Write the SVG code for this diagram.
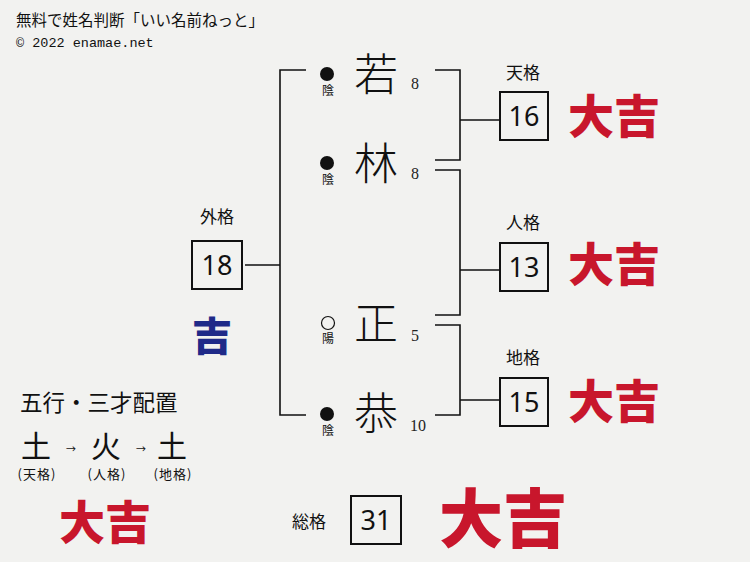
<svg xmlns="http://www.w3.org/2000/svg" width="750" height="562" viewBox="0 0 750 562">
<style>
.ln{stroke:#111;stroke-width:1.6;fill:none}
.box{fill:none;stroke:#111;stroke-width:2}
.num{font-family:"Noto Sans","Liberation Sans",sans-serif;font-size:27px;text-anchor:middle;fill:#111}
.lab{font-family:"Noto Sans CJK JP",sans-serif;font-size:17px;text-anchor:middle;fill:#111}
.name{font-family:"Noto Sans CJK JP",sans-serif;font-weight:300;font-size:44px;text-anchor:middle;fill:#111}
.stk{font-family:"Liberation Serif",serif;font-size:16px;fill:#222}
.yin{font-family:"Noto Sans CJK JP",sans-serif;font-size:12px;text-anchor:middle;fill:#111}
.kichi{font-family:"Noto Sans CJK JP",sans-serif;font-weight:900;fill:#c8162c}
.g5{font-family:"Noto Sans CJK JP",sans-serif;fill:#111}
.par{font-family:"Noto Sans CJK JP",sans-serif;font-size:13px;text-anchor:middle;fill:#111;letter-spacing:1px}
</style>
<rect width="750" height="562" fill="#f2f2f0"/>
<g id="header">
<text x="16" y="26" class="g5" font-size="15.5">無料で姓名判断「いい名前ねっと」</text>
<text x="16" y="47" font-family="Liberation Mono,monospace" font-size="13.5" fill="#111">© 2022 enamae.net</text>
</g>
<g id="connectors">
<path class="ln" d="M306,70 H280 V415 H306 M245,265 H280"/>
<path class="ln" d="M435,70 H460 V160 H435 M460,120 H499"/>
<path class="ln" d="M435,170 H460 V315 H435 M460,270 H499"/>
<path class="ln" d="M435,325 H460 V415 H435 M460,400 H499"/>
</g>
<g id="name1">
<circle cx="327" cy="74" r="7" fill="#111"/>
<text x="328" y="95" class="yin">陰</text>
<text x="376" y="91" class="name">若</text>
<text x="411" y="89" class="stk">8</text>
</g>
<g id="name2">
<circle cx="327" cy="163" r="7" fill="#111"/>
<text x="328" y="184" class="yin">陰</text>
<text x="376" y="180" class="name">林</text>
<text x="411" y="179" class="stk">8</text>
</g>
<g id="name3">
<circle cx="328" cy="323" r="6.5" fill="none" stroke="#111" stroke-width="1.2"/>
<text x="328" y="343" class="yin">陽</text>
<text x="376" y="340" class="name">正</text>
<text x="411" y="341" class="stk">5</text>
</g>
<g id="name4">
<circle cx="327" cy="414" r="7" fill="#111"/>
<text x="328" y="435" class="yin">陰</text>
<text x="376" y="430" class="name">恭</text>
<text x="410" y="431" class="stk">10</text>
</g>
<g id="gaikaku">
<text x="217" y="223" class="lab">外格</text>
<rect x="192" y="241" width="50" height="48" class="box"/>
<text x="217" y="275" class="num">18</text>
<text x="212" y="351" font-family="Noto Sans CJK JP,sans-serif" font-weight="900" font-size="40" text-anchor="middle" fill="#1f2a88">吉</text>
</g>
<g id="tenkaku">
<text x="523" y="79" class="lab">天格</text>
<rect x="500" y="92" width="48" height="48" class="box"/>
<text x="524" y="126" class="num">16</text>
<text x="614" y="133" class="kichi" font-size="46" text-anchor="middle">大吉</text>
</g>
<g id="jinkaku">
<text x="523" y="229" class="lab">人格</text>
<rect x="500" y="243" width="48" height="48" class="box"/>
<text x="524" y="277" class="num">13</text>
<text x="614" y="281" class="kichi" font-size="46" text-anchor="middle">大吉</text>
</g>
<g id="chikaku">
<text x="523" y="364" class="lab">地格</text>
<rect x="500" y="378" width="48" height="48" class="box"/>
<text x="524" y="412" class="num">15</text>
<text x="614" y="418" class="kichi" font-size="46" text-anchor="middle">大吉</text>
</g>
<g id="soukaku">
<text x="309" y="528" class="lab">総格</text>
<rect x="351" y="496" width="50" height="48" class="box"/>
<text x="376" y="530" class="num">31</text>
<text x="503" y="542" class="kichi" font-size="64" text-anchor="middle">大吉</text>
</g>
<g id="gogyou">
<text x="20" y="411" class="g5" font-size="22.5">五行・三才配置</text>
<text x="36" y="457" class="g5" font-size="30" text-anchor="middle">土</text>
<text x="71" y="453" class="g5" font-size="10" text-anchor="middle">→</text>
<text x="106" y="457" class="g5" font-size="30" text-anchor="middle">火</text>
<text x="141" y="453" class="g5" font-size="10" text-anchor="middle">→</text>
<text x="172" y="457" class="g5" font-size="30" text-anchor="middle">土</text>
<text x="37" y="479" class="par">(天格)</text>
<text x="107" y="479" class="par">(人格)</text>
<text x="173" y="479" class="par">(地格)</text>
<text x="105" y="539" class="kichi" font-size="46" text-anchor="middle">大吉</text>
</g>
</svg>
